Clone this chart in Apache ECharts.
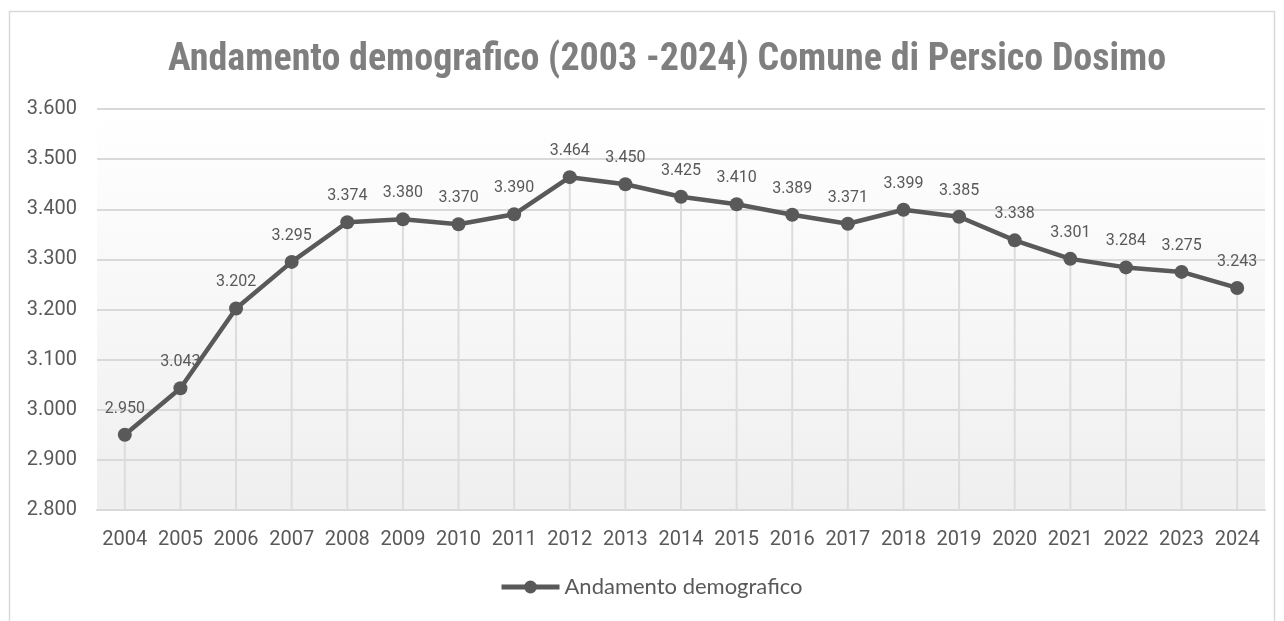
<!DOCTYPE html>
<html>
<head>
<meta charset="utf-8">
<script src="https://cdn.jsdelivr.net/npm/echarts@6/dist/echarts.min.js"></script>
<style>
  html, body { margin: 0; padding: 0; background: #ffffff; }
  #chart { width: 1284px; height: 621px; }
</style>
</head>
<body>
<div id="chart"></div>
<script>
// Popolazione residente, Comune di Persico Dosimo
const years = ['2004','2005','2006','2007','2008','2009','2010','2011','2012','2013','2014',
               '2015','2016','2017','2018','2019','2020','2021','2022','2023','2024'];
const population = [2950, 3043, 3202, 3295, 3374, 3380, 3370, 3390, 3464, 3450, 3425,
                    3410, 3389, 3371, 3399, 3385, 3338, 3301, 3284, 3275, 3243];
const seriesName = 'Andamento demografico';
const titleText = 'Andamento demografico (2003 -2024) Comune di Persico Dosimo';

// Separatore delle migliaia all'italiana
function fmt(v) {
  return String(v).replace(/\B(?=(\d{3})+(?!\d))/g, '.');
}

const chart = echarts.init(document.getElementById('chart'), null, { renderer: 'canvas' });

chart.setOption({
  animation: false,
  backgroundColor: '#ffffff',
  graphic: [{
    type: 'rect',
    shape: { x: 9.5, y: 11.5, width: 1265, height: 640 },
    style: { fill: 'none', stroke: '#d9d9d9', lineWidth: 1.5 },
    silent: true,
    z: -1
  }],
  title: {
    text: titleText,
    left: 163,
    top: 36,
    textStyle: {
      fontFamily: '"Liberation Sans Narrow", "Roboto Condensed", Roboto, sans-serif',
      fontWeight: 'bold',
      fontSize: 38,
      color: '#7f7f7f'
    }
  },
  legend: {
    data: [seriesName],
    bottom: 18,
    left: 494,
    itemWidth: 58,
    itemHeight: 16,
    itemGap: 4,
    lineStyle: { width: 5 },
    textStyle: { fontFamily: 'Lato, "Noto Sans", sans-serif', fontSize: 22, color: '#595959' }
  },
  grid: {
    left: 97,
    right: 19,
    top: 109,
    bottom: 111,
    show: true,
    borderWidth: 0,
    backgroundColor: new echarts.graphic.LinearGradient(0, 0, 0, 1, [
      { offset: 0, color: '#ffffff' },
      { offset: 1, color: '#efefef' }
    ])
  },
  xAxis: {
    type: 'category',
    data: years,
    boundaryGap: true,
    axisLine: { lineStyle: { color: '#d9d9d9', width: 2 } },
    axisTick: { show: false },
    axisLabel: { interval: 0, fontFamily: 'Roboto, sans-serif', fontSize: 20, color: '#595959', margin: 20 },
    splitLine: { show: false }
  },
  yAxis: {
    type: 'value',
    min: 2800,
    max: 3600,
    interval: 100,
    axisLine: { show: false },
    axisTick: { show: false },
    axisLabel: {
      fontFamily: 'Roboto, sans-serif', fontSize: 20, color: '#595959', margin: 20,
      formatter: fmt
    },
    splitLine: { lineStyle: { color: '#d9d9d9', width: 2 } }
  },
  series: [
    {
      // linee verticali da ogni punto all'asse
      name: 'drop',
      type: 'bar',
      data: population,
      barWidth: 2,
      itemStyle: { color: '#dcdcdc' },
      silent: true,
      z: 1
    },
    {
      name: seriesName,
      type: 'line',
      data: population,
      barGap: '-100%',
      symbol: 'circle',
      symbolSize: 14,
      lineStyle: { color: '#595959', width: 4.5 },
      itemStyle: { color: '#595959' },
      label: {
        show: true,
        position: 'top',
        distance: 11,
        fontFamily: 'Roboto, sans-serif',
        fontSize: 16,
        color: '#595959',
        formatter: p => fmt(p.value)
      },
      z: 3
    }
  ]
});
</script>
</body>
</html>
